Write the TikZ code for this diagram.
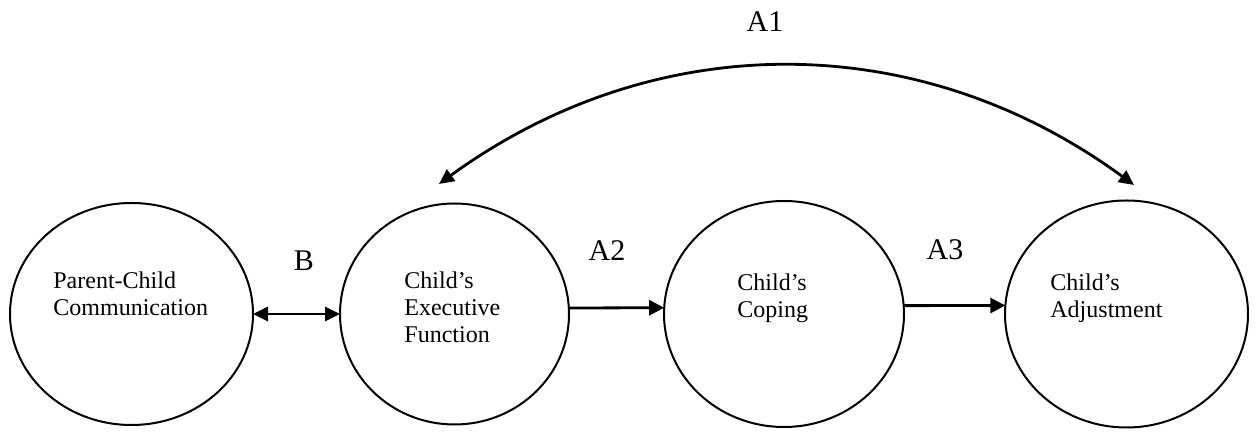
\documentclass[tikz,border=0pt]{standalone}
\usepackage{fontspec}
\setmainfont{Liberation Serif}
\usetikzlibrary{positioning,arrows.meta,shapes.geometric,calc}
\tikzset{
  bubble/.style={ellipse,draw=black,line width=1pt,inner sep=0pt,outer sep=0pt},
  ltxt/.style={align=left,inner sep=0pt,anchor=base west,font=\fontsize{12}{13.5}\selectfont},
  plab/.style={inner sep=0pt,anchor=base,font=\fontsize{15}{18}\selectfont},
  edge/.style={-{Triangle[length=7.5pt,width=7.5pt]},line width=1.4pt},
  biedge/.style={{Triangle[length=7.5pt,width=7pt]}-{Triangle[length=7.5pt,width=7pt]},line width=1.4pt}
}
\begin{document}
\begin{tikzpicture}[x=0.5pt,y=0.5pt]
  \useasboundingbox (0,0) rectangle (1257,432);
  % the four constructs
  \node[bubble,minimum width=121.5pt,minimum height=111pt] (comm) at (131.5,118) {};
  \node[bubble,minimum width=114.5pt,minimum height=110.5pt,right=43.5pt of comm] (exec) {};
  \node[bubble,minimum width=120pt,minimum height=113pt,right=47.5pt of exec] (coping) {};
  \node[bubble,minimum width=121.5pt,minimum height=113.5pt,right=50.5pt of coping] (adjust) {};
  \node[ltxt] (tcomm) at ($(comm.west)+(43,-2)$) {Parent-Child\\Communication};
  \node[ltxt] (texec) at ($(exec.west)+(64,-29)$) {Child’s\\Executive\\Function};
  \node[ltxt] (tcoping) at ($(coping.west)+(73,-4)$) {Child’s\\Coping};
  \node[ltxt] (tadjust) at ($(adjust.west)+(45,-4)$) {Child’s\\Adjustment};
  % path labels
  \node[plab] (lb) at (304,161) {B};
  \node[plab] (la2) at (607,171) {A2};
  \node[plab] (la3) at (945,172) {A3};
  \node[plab] (la1) at (765,400) {A1};
  \coordinate (a1l) at (439,248);
  \coordinate (a1r) at (1134,247);
  \draw[biedge] (comm.east) -- (exec.west);
  \draw[edge] (exec.3) -- (coping.177);
  \draw[edge] (coping.4) -- (adjust.176);
  \draw[biedge] (a1l) .. controls (655,405) and (918,405) .. (a1r);
\end{tikzpicture}
\end{document}
